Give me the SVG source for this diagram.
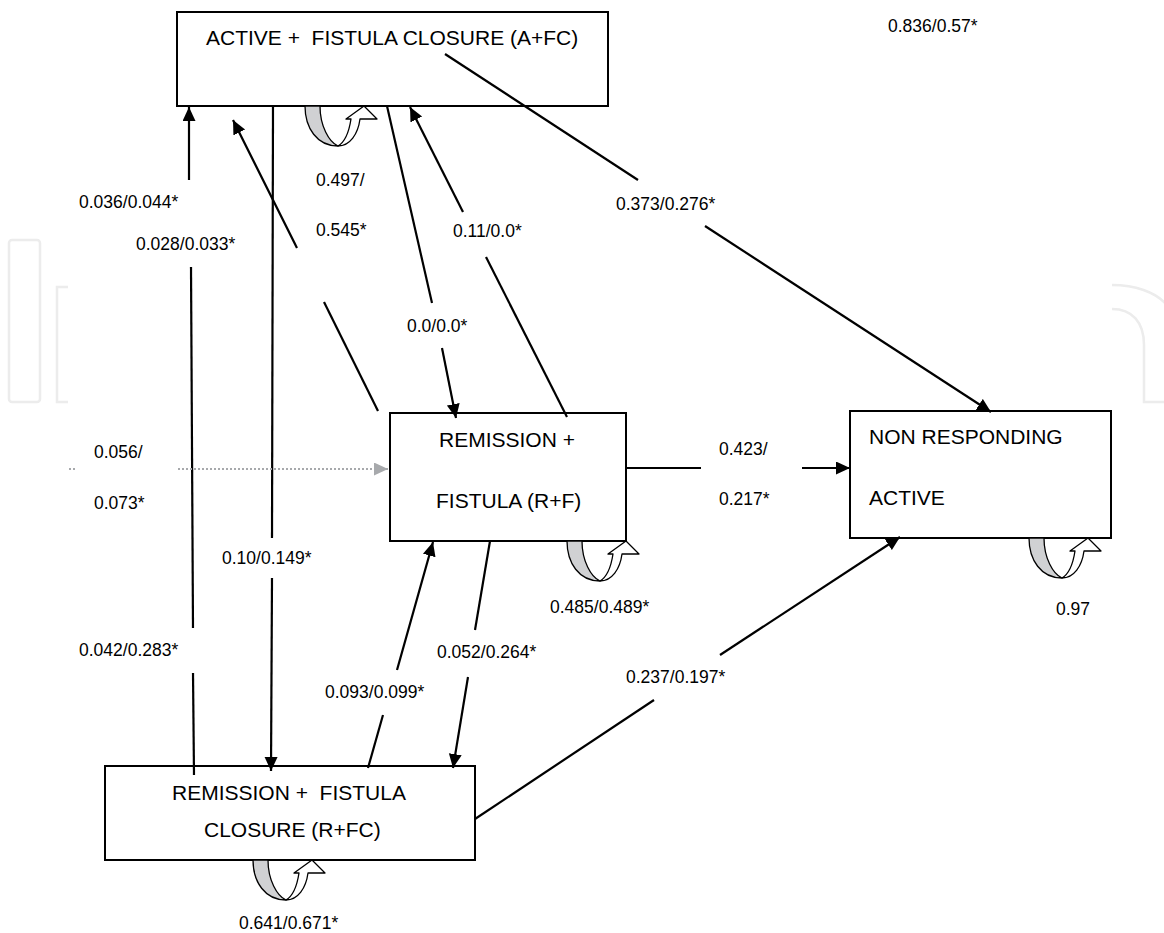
<svg xmlns="http://www.w3.org/2000/svg" width="1164" height="933" viewBox="0 0 1164 933">
<style>
.bg{fill:#ffffff}
.wm{fill:none;stroke:#ececec;stroke-width:2.5}
.box{fill:#ffffff;stroke:#000;stroke-width:2}
.t{font-family:"Liberation Sans",Arial,sans-serif;font-size:21px;fill:#000;white-space:pre}
.l{font-family:"Liberation Sans",Arial,sans-serif;font-size:17.5px;fill:#000;white-space:pre}
.c{fill:none;stroke:#000;stroke-width:2.2}
.dot{fill:none;stroke:#a7a9ac;stroke-width:2;stroke-dasharray:2 2}
.lg{fill:#d0d1d3;stroke:#000;stroke-width:1.3;stroke-linejoin:round}
.lw{fill:#ffffff;stroke:#000;stroke-width:1.3;stroke-linejoin:round}
</style>
<defs>
<marker id="ah" markerUnits="userSpaceOnUse" markerWidth="16" markerHeight="14" refX="14" refY="6.5" orient="auto">
<path d="M0,0 L14,6.5 L0,13 Z" fill="#000"/>
</marker>
<marker id="ahg" markerUnits="userSpaceOnUse" markerWidth="16" markerHeight="14" refX="14" refY="6.5" orient="auto">
<path d="M0,0 L14,6.5 L0,13 Z" fill="#a7a9ac"/>
</marker>
<g id="loop">
<path class="lg" d="M0,0 L15,0 C15,20 24,36 33,40 C12,40 0,22 0,0 Z"/>
<path class="lw" d="M33,40 C45,40 53,28 55,13 L72,13 L59,0 L41,13 L46,13 C44,26 40,36 33,40 Z"/>
</g>
</defs>
<rect class="bg" x="0" y="0" width="1164" height="933"/>
<g id="watermark">
<rect class="wm" x="9" y="240" width="31" height="162" rx="3"/>
<path class="wm" d="M68,287 H57 V402 H68"/>
<path class="wm" d="M1112,285 C1135,285 1155,292 1166,304"/>
<path class="wm" d="M1112,309 C1132,309 1144,322 1144,345 V402 H1166"/>
</g>
<g id="node-afc">
<rect class="box" x="177" y="12" width="431" height="94"/>
<text class="t" x="206" y="45">ACTIVE +  FISTULA CLOSURE (A+FC)</text>
<use href="#loop" x="305" y="106"/>
</g>
<g id="node-rf">
<rect class="box" x="390" y="413" width="236" height="128"/>
<text class="t" x="439" y="447">REMISSION +</text>
<text class="t" x="436" y="508">FISTULA (R+F)</text>
<use href="#loop" x="567" y="541"/>
</g>
<g id="node-nra">
<rect class="box" x="850" y="411" width="261" height="127"/>
<text class="t" x="869" y="444">NON RESPONDING</text>
<text class="t" x="869" y="505">ACTIVE</text>
<use href="#loop" x="1029" y="538"/>
</g>
<g id="node-rfc">
<rect class="box" x="105" y="766" width="370" height="94"/>
<text class="t" x="172" y="800">REMISSION +  FISTULA</text>
<text class="t" x="204" y="837">CLOSURE (R+FC)</text>
<use href="#loop" x="253" y="860"/>
</g>
<g id="connectors">
<path class="c" d="M445,54 L638,180"/>
<path class="c" d="M705,226 L991,412" marker-end="url(#ah)"/>
<path class="c" d="M297,248 L233,120" marker-end="url(#ah)"/>
<path class="c" d="M324,302 L378,411"/>
<path class="c" d="M273,106 L272,538"/>
<path class="c" d="M272,578 L271,771" marker-end="url(#ah)"/>
<path class="c" d="M194,775 L193,673"/>
<path class="c" d="M193,628 L191,267"/>
<path class="c" d="M189,180 L189,107" marker-end="url(#ah)"/>
<path class="c" d="M387,106 L432,303"/>
<path class="c" d="M442,348 L456,418" marker-end="url(#ah)"/>
<path class="c" d="M567,417 L486,257"/>
<path class="c" d="M463,212 L410,107" marker-end="url(#ah)"/>
<path class="c" d="M626,468 L701,468"/>
<path class="c" d="M802,468 L850,468" marker-end="url(#ah)"/>
<path class="dot" d="M69,469 L77,469"/>
<path class="dot" d="M178,469 L388,469" marker-end="url(#ahg)"/>
<path class="c" d="M368,768 L383,715"/>
<path class="c" d="M397,670 L433,542" marker-end="url(#ah)"/>
<path class="c" d="M490,541 L475,630"/>
<path class="c" d="M468,677 L453,768" marker-end="url(#ah)"/>
<path class="c" d="M475,819 L654,700"/>
<path class="c" d="M720,655 L900,537" marker-end="url(#ah)"/>
</g>
<g id="labels">
<text class="l" x="888" y="32">0.836/0.57*</text>
<text class="l" x="616" y="210">0.373/0.276*</text>
<text class="l" x="316" y="186">0.497/</text>
<text class="l" x="316" y="236">0.545*</text>
<text class="l" x="453" y="237">0.11/0.0*</text>
<text class="l" x="79" y="208">0.036/0.044*</text>
<text class="l" x="136" y="250">0.028/0.033*</text>
<text class="l" x="407" y="332">0.0/0.0*</text>
<text class="l" x="94" y="458">0.056/</text>
<text class="l" x="94" y="509">0.073*</text>
<text class="l" x="719" y="455">0.423/</text>
<text class="l" x="719" y="505">0.217*</text>
<text class="l" x="222" y="564">0.10/0.149*</text>
<text class="l" x="550" y="613">0.485/0.489*</text>
<text class="l" x="1056" y="615">0.97</text>
<text class="l" x="79" y="656">0.042/0.283*</text>
<text class="l" x="437" y="658">0.052/0.264*</text>
<text class="l" x="325" y="698">0.093/0.099*</text>
<text class="l" x="626" y="683">0.237/0.197*</text>
<text class="l" x="239" y="929">0.641/0.671*</text>
</g>
</svg>
